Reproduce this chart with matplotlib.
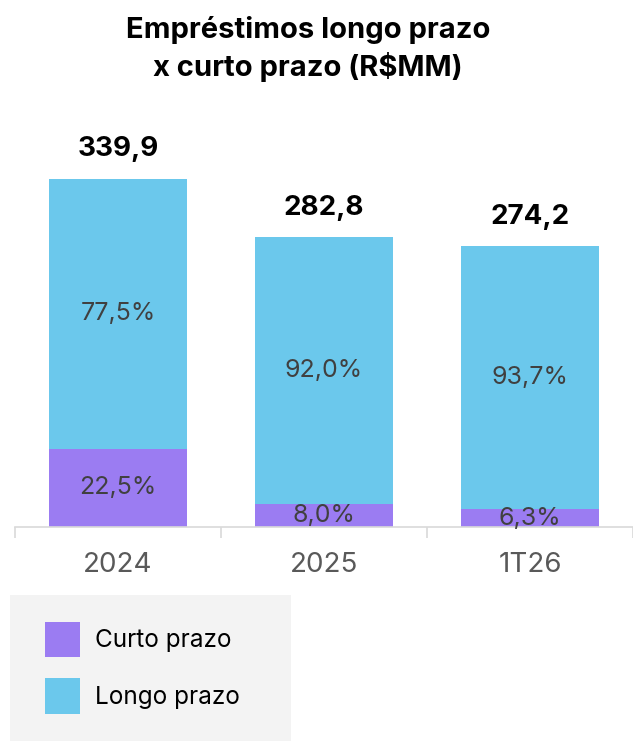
import numpy as np
import matplotlib.pyplot as plt
from matplotlib.patches import Rectangle

plt.rcParams['font.family'] = ['Inter', 'DejaVu Sans']

# dados
categorias = ['2024', '2025', '1T26']
totais = [339.9, 282.8, 274.2]
pct_curto = [22.5, 8.0, 6.3]
pct_longo = [77.5, 92.0, 93.7]

cor_curto = '#9b7cf2'
cor_longo = '#6bc8ec'

curto = np.array(totais) * np.array(pct_curto) / 100
longo = np.array(totais) - curto

fig = plt.figure(figsize=(6.33, 7.41), dpi=100)
ax = fig.add_axes([15 / 633, 214 / 741, 618 / 633, 409.6 / 741])

x = np.arange(len(categorias))
b1 = ax.bar(x, curto, width=0.67, color=cor_curto, label='Curto prazo')
b2 = ax.bar(x, longo, width=0.67, bottom=curto, color=cor_longo, label='Longo prazo')

def fmt(v):
    return f'{v:.1f}'.replace('.', ',')

for i in range(len(x)):
    ax.text(x[i], curto[i] / 2, fmt(pct_curto[i]) + '%', ha='center', va='center',
            fontsize=18, color='#404040')
    ax.text(x[i], curto[i] + longo[i] / 2, fmt(pct_longo[i]) + '%', ha='center',
            va='center', fontsize=18, color='#404040')
    ax.annotate(fmt(totais[i]), (x[i], totais[i]), xytext=(0, 12),
                textcoords='offset points', ha='center', va='bottom',
                fontsize=20, fontweight='bold', color='black')

ax.set_xlim(-0.5, 2.5)
ax.set_ylim(0, 400)
ax.set_yticks([])
for s in ['top', 'right', 'left']:
    ax.spines[s].set_visible(False)
ax.spines['bottom'].set_color('#d9d9d9')
ax.spines['bottom'].set_linewidth(1.2)
ax.set_xticks(x)
ax.set_xticklabels(categorias, fontsize=20, color='#595959')
ax.tick_params(axis='x', which='major', length=0, pad=18)
ax.set_xticks([-0.5, 0.5, 1.5, 2.5], minor=True)
ax.tick_params(axis='x', which='minor', length=8, color='#d9d9d9', width=1.2)

fig.text(0.487, 1 - 49 / 741, 'Empréstimos longo prazo\nx curto prazo (R$MM)',
         ha='center', va='center', fontsize=21, fontweight='bold',
         linespacing=1.36)

fig.patches.append(Rectangle((10 / 633, 0), 281 / 633, 146 / 741,
                             transform=fig.transFigure, facecolor='#f3f3f3',
                             edgecolor='none', zorder=0))
fig.legend(handles=[b1, b2], loc='upper left',
           bbox_to_anchor=(45 / 633, 1 - 622 / 741), frameon=False,
           fontsize=17.5, handlelength=1.44, handleheight=1.86,
           handletextpad=0.6, labelspacing=0.86, borderpad=0, borderaxespad=0)

fig.savefig('out.png', dpi=100)
